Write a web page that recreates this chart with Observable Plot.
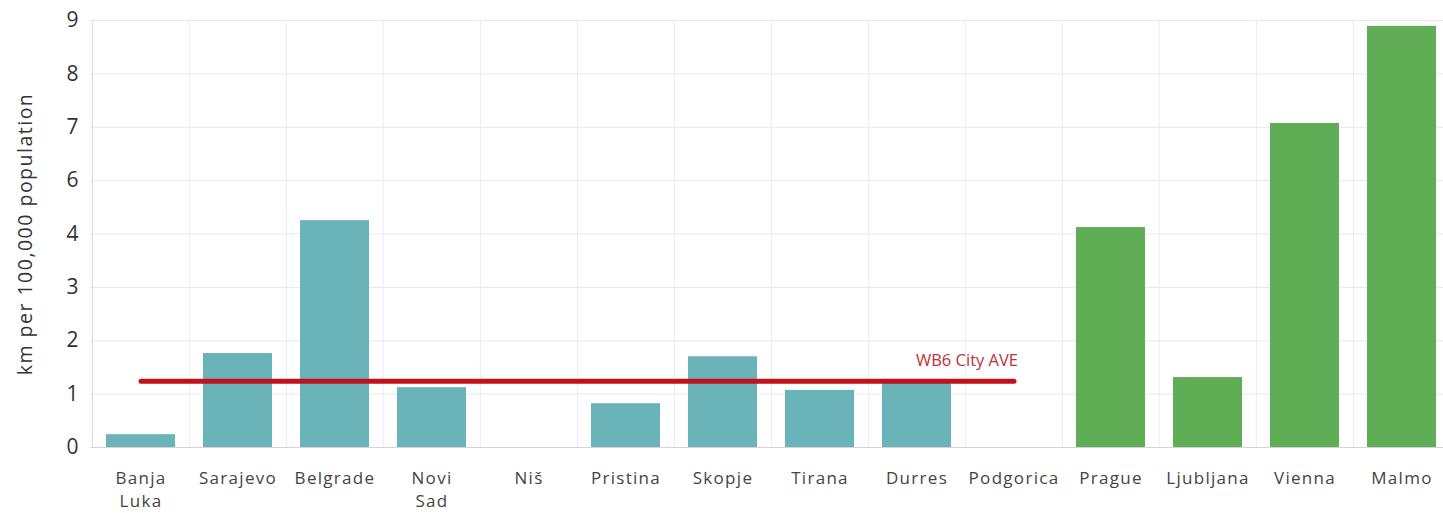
<!DOCTYPE html>
<html>
<head>
<meta charset="utf-8">
<script src="https://cdn.jsdelivr.net/npm/d3@7"></script>
<script src="https://cdn.jsdelivr.net/npm/@observablehq/plot@0.6"></script>
<style>
  html, body { margin: 0; padding: 0; background: #fff; }
  #chart svg { display: block; overflow: visible; }
  #chart g[aria-label="x-axis tick label"] { letter-spacing: 1.3px; }
  #chart [aria-label="y-axis title"] { letter-spacing: 1.5px; }
</style>
</head>
<body>
<div id="chart"></div>
<script>
// Cycle lane length per 100,000 inhabitants
const cities = ["Banja Luka", "Sarajevo", "Belgrade", "Novi Sad", "Niš", "Pristina", "Skopje",
                "Tirana", "Durres", "Podgorica", "Prague", "Ljubljana", "Vienna", "Malmo"];
const kmPer100k = [0.24, 1.76, 4.5, 1.12, 0, 0.82, 1.70, 1.07, 1.22, 0, 4.24, 1.31, 7.07, 8.89];
const group = ["WB6", "WB6", "WB6", "WB6", "WB6", "WB6", "WB6", "WB6", "WB6", "WB6",
               "EU", "EU", "EU", "EU"];
const yTicks = [0, 1, 2, 3, 4, 6, 7, 8, 9];
const wb6Average = 1.24;
const averageLabel = "WB6 City AVE";
const yLabel = "km per 100,000 population";

const data = cities.map((city, i) => ({city, value: kmPer100k[i], group: group[i]}));
const averageSpan = [
  {city: cities[0], value: wb6Average},
  {city: cities[9], value: wb6Average}
];

const width = 1443, height = 513;
const xRange = [90, 1452];
const step = (xRange[1] - xRange[0]) / cities.length;
// The value axis skips 5: 4→6 shares a single step with the others
const unit = (447 - 20) / 8;
const yRange = [447, 447 - 4 * unit, 447 - 5 * unit, 20];

const chart = Plot.plot({
  width, height,
  marginLeft: 90, marginRight: 0, marginTop: 20, marginBottom: 66,
  style: {fontFamily: "'Open Sans', Lato, sans-serif", background: "#fff"},
  x: {domain: cities, range: xRange, padding: 0, label: null},
  y: {type: "linear", domain: [0, 4, 6, 9], range: yRange, label: null},
  color: {domain: ["WB6", "EU"], range: ["#6ab3b9", "#5fae55"]},
  marks: [
    Plot.gridY(yTicks, {stroke: "#e8e8e8", strokeOpacity: 1}),
    Plot.ruleX(cities.slice(1), {x: d => d, y1: 0, y2: 9, dx: -step / 2, stroke: "#ececec"}),
    Plot.ruleX([cities[0]], {x: d => d, y1: 0, y2: 9, dx: -step / 2, stroke: "#d9d9d9"}),
    Plot.ruleY([0], {stroke: "#d4d4d4"}),
    Plot.barY(data, {x: "city", y: "value", fill: "group", insetLeft: 14, insetRight: 14}),
    Plot.line(averageSpan, {x: "city", y: "value", stroke: "#c0121d", strokeWidth: 5, strokeLinecap: "round"}),
    Plot.text([averageSpan[1]], {x: "city", y: "value", text: () => averageLabel, textAnchor: "end",
      dx: 4, dy: -21, fill: "#c0303a", fontSize: 16.5}),
    Plot.axisY(yTicks, {tickSize: 0, tickPadding: 12, fontSize: 21, fill: "#333", label: null,
      tickFormat: d => String(d)}),
    Plot.text([yLabel], {frameAnchor: "left", rotate: -90, textAnchor: "middle", dx: -65,
      fontSize: 19.5, fill: "#333", ariaLabel: () => "y-axis title", text: d => d}),
    Plot.axisX({tickSize: 0, tickPadding: 20, fontSize: 17, fill: "#444", label: null,
      lineHeight: 1.37, tickFormat: d => d.split(" ").join("\n")})
  ]
});
document.getElementById("chart").append(chart);
</script>
</body>
</html>
